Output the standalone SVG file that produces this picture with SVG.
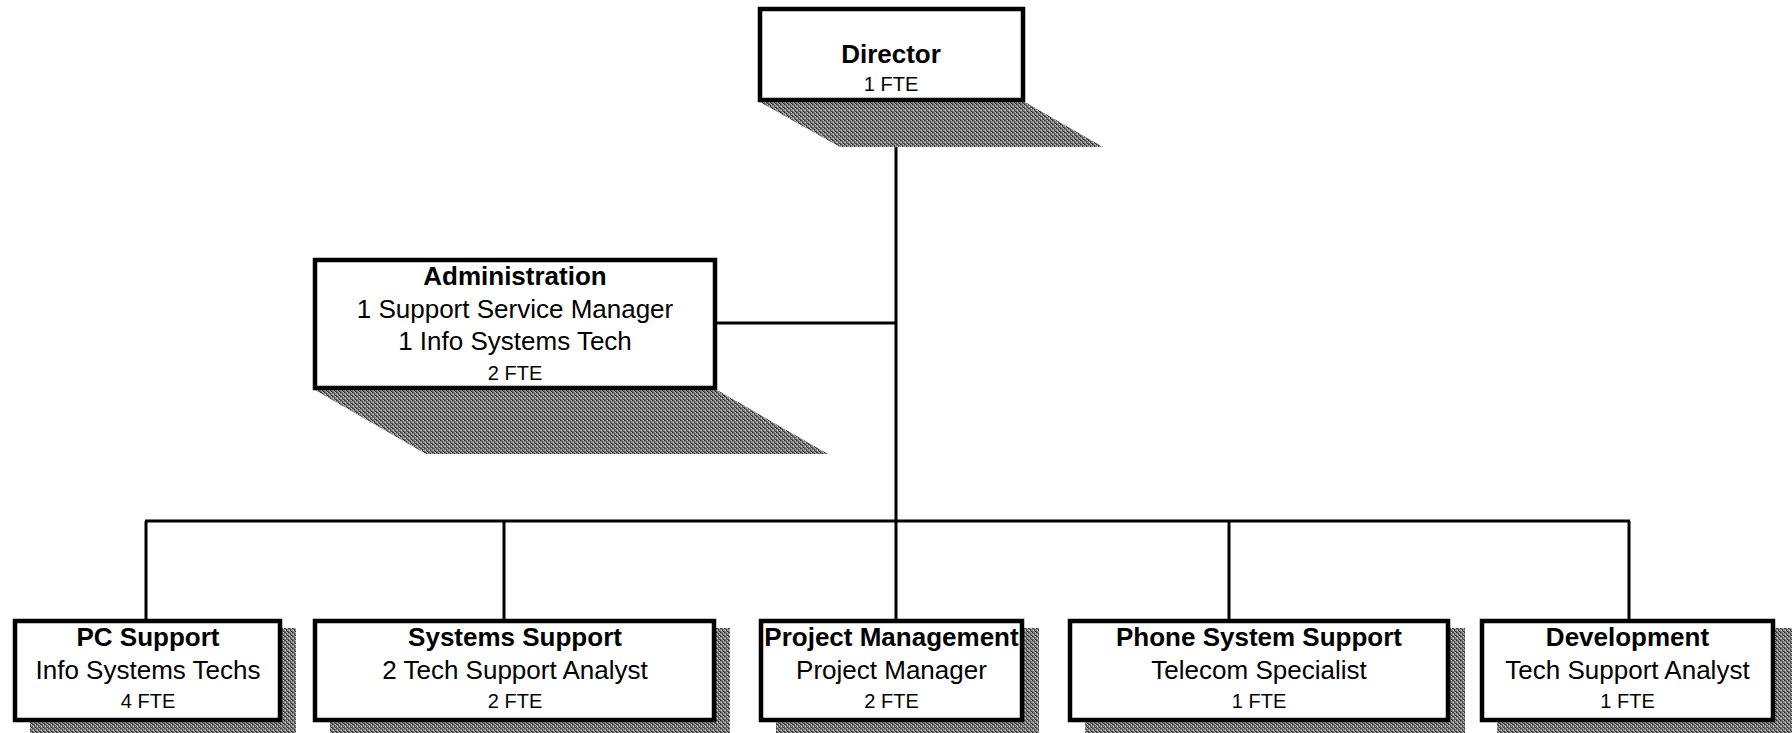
<svg xmlns="http://www.w3.org/2000/svg" width="1792" height="733" viewBox="0 0 1792 733">
<style>
.box{fill:#fff;stroke:#000;stroke-width:4.5}
.sh{fill:url(#dither)}
.t{font-family:"Liberation Sans",Arial,sans-serif;text-anchor:middle;fill:#000}
.b{font-weight:bold;font-size:26px}
.r{font-size:26px}
.s{font-size:20px}
.ln{stroke:#000;stroke-width:3;fill:none}
</style>
<defs>
<pattern id="dither" width="4" height="4" patternUnits="userSpaceOnUse">
<rect width="4" height="4" fill="#8a8a8a"/>
<rect x="0" y="0" width="1" height="1" fill="#2e2e2e"/>
<rect x="2" y="1" width="1" height="1" fill="#3a3a3a"/>
<rect x="1" y="2" width="1" height="1" fill="#d0d0d0"/>
<rect x="3" y="3" width="1" height="1" fill="#303030"/>
<rect x="3" y="0" width="1" height="1" fill="#c4c4c4"/>
<rect x="0" y="3" width="1" height="1" fill="#555"/>
<rect x="2" y="2" width="1" height="1" fill="#444"/>
<rect x="1" y="0" width="1" height="1" fill="#5a5a5a"/>
</pattern>
</defs>
<g id="connectors">
<line class="ln" x1="896" y1="102" x2="896" y2="521"/>
<line class="ln" x1="716" y1="323" x2="896" y2="323"/>
<line class="ln" x1="145" y1="521" x2="1630" y2="521"/>
<line class="ln" x1="146" y1="521" x2="146" y2="620"/>
<line class="ln" x1="504" y1="521" x2="504" y2="620"/>
<line class="ln" x1="896" y1="521" x2="896" y2="620"/>
<line class="ln" x1="1229" y1="521" x2="1229" y2="620"/>
<line class="ln" x1="1629" y1="521" x2="1629" y2="620"/>
</g>
<g id="director">
<polygon class="sh" points="760,102 1025,102 1103,147 840,147"/>
<rect class="box" x="760" y="9" width="263" height="91"/>
<text class="t b" x="891" y="63">Director</text>
<text class="t s" x="891" y="91">1 FTE</text>
</g>
<g id="administration">
<polygon class="sh" points="315,390 717,390 828,454 426,454"/>
<rect class="box" x="315" y="260" width="400" height="128"/>
<text class="t b" x="515" y="285">Administration</text>
<text class="t r" x="515" y="318">1 Support Service Manager</text>
<text class="t r" x="515" y="350">1 Info Systems Tech</text>
<text class="t s" x="515" y="380">2 FTE</text>
</g>
<g id="pc-support">
<rect class="sh" x="30" y="628" width="266" height="110"/>
<rect class="box" x="15" y="621" width="265" height="99"/>
<text class="t b" x="148" y="646">PC Support</text>
<text class="t r" x="148" y="679">Info Systems Techs</text>
<text class="t s" x="148" y="708">4 FTE</text>
</g>
<g id="systems-support">
<rect class="sh" x="330" y="628" width="400" height="110"/>
<rect class="box" x="315" y="621" width="399" height="99"/>
<text class="t b" x="515" y="646">Systems Support</text>
<text class="t r" x="515" y="679">2 Tech Support Analyst</text>
<text class="t s" x="515" y="708">2 FTE</text>
</g>
<g id="project-management">
<rect class="sh" x="776" y="628" width="263" height="110"/>
<rect class="box" x="761" y="621" width="261" height="99"/>
<text class="t b" x="891.5" y="646">Project Management</text>
<text class="t r" x="891.5" y="679">Project Manager</text>
<text class="t s" x="891.5" y="708">2 FTE</text>
</g>
<g id="phone-system-support">
<rect class="sh" x="1085" y="628" width="380" height="110"/>
<rect class="box" x="1070" y="621" width="378" height="99"/>
<text class="t b" x="1259" y="646">Phone System Support</text>
<text class="t r" x="1259" y="679">Telecom Specialist</text>
<text class="t s" x="1259" y="708">1 FTE</text>
</g>
<g id="development">
<rect class="sh" x="1497" y="628" width="300" height="110"/>
<rect class="box" x="1482" y="621" width="291" height="99"/>
<text class="t b" x="1627.5" y="646">Development</text>
<text class="t r" x="1627.5" y="679">Tech Support Analyst</text>
<text class="t s" x="1627.5" y="708">1 FTE</text>
</g>
</svg>
